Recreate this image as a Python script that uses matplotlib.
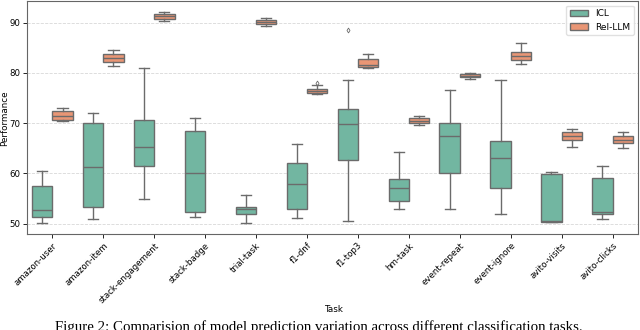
import matplotlib
matplotlib.use("Agg")
import matplotlib.pyplot as plt
import matplotlib.patches as mpatches
import numpy as np
import seaborn as sns

# tareas y estadisticos (whislo, q1, med, q3, whishi)
tasks = ["amazon-user", "amazon-item", "stack-engagement", "stack-badge",
         "trial-task", "f1-dnf", "f1-top3", "hm-task", "event-repeat",
         "event-ignore", "avito-visits", "avito-clicks"]

icl_low = [50.1, 50.85, 55.0, 51.4, 50.1, 51.05, 50.5, 52.85, 53.0, 51.9, 50.4, 50.85]
icl_q1 = [51.25, 53.4, 61.4, 52.25, 51.85, 52.9, 62.6, 54.5, 60.0, 57.15, 50.4, 51.9]
icl_med = [52.8, 61.2, 65.3, 60.0, 52.85, 57.95, 69.8, 57.1, 67.4, 63.05, 50.5, 52.3]
icl_q3 = [57.55, 70.0, 70.55, 68.45, 53.4, 62.05, 72.8, 58.95, 69.95, 66.4, 59.8, 59.0]
icl_high = [60.5, 71.95, 81.0, 71.1, 55.7, 65.8, 78.65, 64.3, 76.5, 78.6, 60.3, 61.4]
icl_fliers = [[], [], [], [], [], [], [88.5], [], [], [], [], []]

# stack-badge no tiene caja de Rel-LLM
rel_low = [70.4, 81.45, 90.4, None, 89.35, 75.7, 80.95, 69.7, 78.85, 81.75, 65.3, 65.0]
rel_q1 = [70.7, 82.2, 90.65, None, 89.75, 75.9, 81.15, 70.1, 79.1, 82.55, 66.6, 66.0]
rel_med = [71.4, 82.9, 91.3, None, 90.1, 76.45, 81.55, 70.4, 79.45, 83.4, 67.5, 66.7]
rel_q3 = [72.4, 83.7, 91.8, None, 90.45, 76.8, 82.75, 71.0, 79.8, 84.1, 68.3, 67.4]
rel_high = [73.1, 84.6, 92.2, None, 90.85, 77.5, 83.8, 71.5, 79.9, 86.0, 68.9, 68.3]
rel_fliers = [[], [], [], [], [], [77.95], [], [], [], [], [], []]


def stats(lo, q1, med, q3, hi, fl):
    out = []
    pos = []
    for i in range(len(lo)):
        if lo[i] is None:
            continue
        out.append(dict(whislo=lo[i], q1=q1[i], med=med[i], q3=q3[i],
                        whishi=hi[i], fliers=fl[i]))
        pos.append(i)
    return out, np.array(pos, dtype=float)


pal = sns.color_palette("Set2", 2)
c_icl = sns.desaturate(pal[0], 0.75)
c_rel = sns.desaturate(pal[1], 0.75)
gris = (0.42, 0.42, 0.42)

fig = plt.figure(figsize=(6.4, 3.3), dpi=100)
ax = fig.add_axes([0.042, 0.291, 0.955, 0.706])

lw = 1.0
props = dict(patch_artist=True, widths=0.4, manage_ticks=False,
             boxprops=dict(edgecolor=gris, linewidth=lw),
             medianprops=dict(color=gris, linewidth=lw),
             whiskerprops=dict(color=gris, linewidth=lw),
             capprops=dict(color=gris, linewidth=lw),
             flierprops=dict(marker="d", markersize=2.5, markerfacecolor="none",
                             markeredgecolor=gris, markeredgewidth=0.6))

s1, p1 = stats(icl_low, icl_q1, icl_med, icl_q3, icl_high, icl_fliers)
b1 = ax.bxp(s1, positions=p1 - 0.2, **props)
for b in b1["boxes"]:
    b.set_facecolor(c_icl)

s2, p2 = stats(rel_low, rel_q1, rel_med, rel_q3, rel_high, rel_fliers)
b2 = ax.bxp(s2, positions=p2 + 0.2, **props)
for b in b2["boxes"]:
    b.set_facecolor(c_rel)

ax.set_xlim(-0.5, len(tasks) - 0.5)
ax.set_ylim(47.95, 94.3)
ax.set_yticks([50, 60, 70, 80, 90])
ax.set_xticks(range(len(tasks)))
ax.set_xticklabels(tasks, rotation=45, ha="right", rotation_mode="anchor",
                   fontsize=6.2)
ax.tick_params(axis="y", labelsize=6.2, length=3, width=0.6, pad=2)
ax.tick_params(axis="x", length=3, width=0.6, pad=2)
ax.grid(axis="y", linestyle="--", color="#d8d8d8", linewidth=0.6)
ax.set_axisbelow(True)
for sp in ax.spines.values():
    sp.set_color("#666666")
    sp.set_linewidth(0.8)

# etiquetas de ejes colocadas a mano
fig.text(4.5 / 640, 1 - 118.0 / 330, "Performance", rotation=90,
         ha="center", va="center", fontsize=6.3)
fig.text(333.0 / 640, 1 - 310.0 / 330, "Task", ha="center", va="center",
         fontsize=6.3)

h = [mpatches.Patch(facecolor=c_icl, edgecolor=gris, label="ICL"),
     mpatches.Patch(facecolor=c_rel, edgecolor=gris, label="Rel-LLM")]
ax.legend(handles=h, loc="upper right", fontsize=6.5, framealpha=0.9,
          edgecolor="#dddddd", borderaxespad=0.5)

fig.text(319.0 / 640, 1 - 320.0 / 330,
         "Figure 2: Comparision of model prediction variation across different classification tasks.",
         ha="center", va="top", fontsize=10.7, family="Liberation Serif")

fig.savefig("out.png", dpi=100)
